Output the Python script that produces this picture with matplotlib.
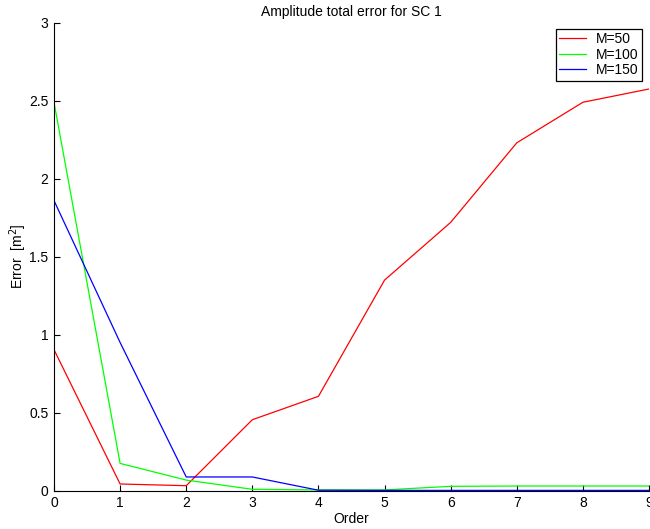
import numpy as np
import matplotlib
matplotlib.use('Agg')
import matplotlib.pyplot as plt
from matplotlib.ticker import FuncFormatter

plt.rcParams.update({
    'font.family': ['Liberation Sans', 'DejaVu Sans'],
    'font.size': 10,
})

# ── Data ──────────────────────────────────────────────────────────────────────
order = [0, 1, 2, 3, 4, 5, 6, 7, 8, 9]
err_m50 = [0.904, 0.043, 0.032, 0.455, 0.605, 1.35, 1.72, 2.23, 2.49, 2.575]
err_m100 = [2.49, 0.175, 0.068, 0.009, 0.005, 0.005, 0.028, 0.03, 0.03, 0.03]
err_m150 = [1.86, 0.95, 0.088, 0.088, 0.003, 0.002, 0.002, 0.002, 0.002, 0.002]
labels = ['M=50', 'M=100', 'M=150']
colors = ['#ff0000', '#00ff00', '#0000ff']

fig = plt.figure(figsize=(6.5, 5.29), dpi=100)
ax = fig.add_axes([54 / 650, 1 - 490.7 / 529, 595 / 650, 468 / 529])

for y, lab, c in zip([err_m50, err_m100, err_m150], labels, colors):
    ax.plot(order, y, color=c, linewidth=0.9, label=lab)

ax.set_xlim(0, 9)
ax.set_ylim(0, 3)
ax.set_xticks(order)
ax.set_yticks(np.arange(0, 3.01, 0.5))
ax.yaxis.set_major_formatter(FuncFormatter(lambda v, p: f'{v:g}'))
ax.tick_params(direction='in', length=4, width=0.8, labelsize=10, pad=4)
ax.spines['top'].set_visible(False)
ax.spines['right'].set_visible(False)

ax.set_title('Amplitude total error for SC 1', fontsize=10, pad=5)
ax.set_xlabel('Order', fontsize=10, labelpad=1)
ax.set_ylabel('Error  [m$^2$]', fontsize=10)
ax.yaxis.set_label_coords(-25 / 595, 0.5)

leg = ax.legend(loc='upper right', bbox_to_anchor=(588 / 595, 0.987), fontsize=10,
                fancybox=False, framealpha=1, edgecolor='black',
                borderpad=0.25, labelspacing=0.1, handlelength=1.95,
                handletextpad=0.7, borderaxespad=0)
leg.get_frame().set_linewidth(0.9)

fig.savefig('out.png', dpi=100)
